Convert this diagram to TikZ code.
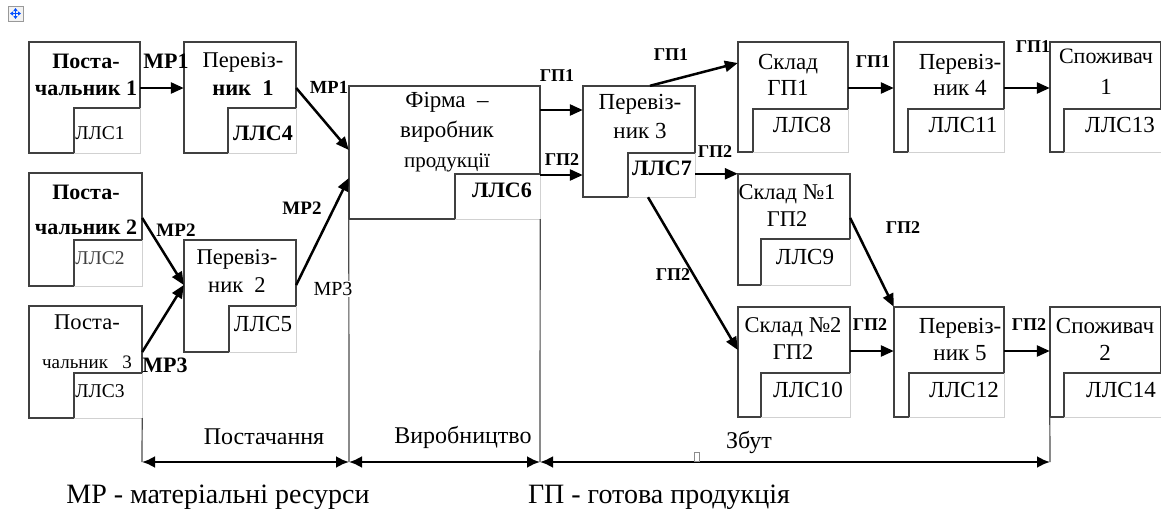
\documentclass[tikz,border=0pt]{standalone}
\usepackage{fontspec}
\setmainfont{Liberation Serif}
\usetikzlibrary{arrows.meta,calc,fit}
\newcommand\LLSbox[7]{% name, x1, y1, x2, y2, notch y, inner x
  \path (#2,#3) coordinate (#1-nw) (#4,#5) coordinate (#1-se);
  \node[inner sep=0pt, fit=(#1-nw)(#1-se)] (#1) {};
  \draw[dk] (#7,#5) -- (#2,#5) -- (#2,#3) -- (#4,#3) -- (#4,#6) -- (#7,#6) -- cycle;
  \draw[lt] (#7,#5) -- (#4,#5) -- (#4,#6);
}
\newcommand\fs[2]{\fontsize{#1}{#2}\selectfont}
\begin{document}
\begin{tikzpicture}[x=1pt,y=-1pt,
  dk/.style={draw=black!75, line width=1.5pt, line join=miter},
  lt/.style={draw=black!18, line width=1pt},
  vline/.style={draw=black!70, line width=1.2pt},
  arr/.style={line width=2.5pt, -{Triangle[length=13pt,width=11pt]}},
  span/.style={line width=2.4pt, {Latex[length=13pt,width=12pt]}-{Latex[length=13pt,width=12pt]}},
  txt/.style={font=\fs{22.5}{27}, align=center, inner sep=0pt},
  lls/.style={font=\fs{23}{24}, inner sep=0pt},
  llss/.style={font=\fs{19.5}{22}, inner sep=0pt},
  lab/.style={font=\bfseries\fs{18}{20}, inner sep=0pt},
  labn/.style={font=\fs{24}{26}, inner sep=0pt},
  leg/.style={font=\fs{28}{30}, inner sep=0pt}]
\useasboundingbox (0,0) rectangle (1161,522);
\fill[white] (0,0) rectangle (1161,522);

% move-handle icon
\draw[draw=black!40, fill=black!5, line width=0.8pt] (8,6) rectangle (23,21);
\draw[draw=blue!70!cyan, line width=1.3pt, {Triangle[length=3pt,width=4pt]}-{Triangle[length=3pt,width=4pt]}] (10,13.5) -- (21,13.5);
\draw[draw=blue!70!cyan, line width=1.3pt, {Triangle[length=3pt,width=4pt]}-{Triangle[length=3pt,width=4pt]}] (15.5,8) -- (15.5,19);

% ---- boxes ----
\LLSbox{p1}{29}{42}{140}{153}{108}{74}
\LLSbox{t1}{184}{42}{296}{153}{108}{228}
\LLSbox{p2}{29}{173}{142}{286}{240}{74}
\LLSbox{t2}{184}{240}{296}{352}{306}{229}
\LLSbox{p3}{29}{306}{142}{418}{373}{74}
\LLSbox{f}{349}{86}{540}{219}{174}{455}
\LLSbox{t3}{583}{86}{695}{197}{153}{628}
\LLSbox{s1}{738}{42}{848}{152}{109}{753}
\LLSbox{t4}{894}{42}{1004}{152}{109}{908}
\LLSbox{c1}{1050}{42}{1161}{152}{109}{1064}
\LLSbox{s2}{738}{174}{850}{285}{239}{761}
\LLSbox{s3}{738}{307}{850}{417}{373}{761}
\LLSbox{t5}{894}{307}{1004}{417}{373}{909}
\LLSbox{c2}{1050}{307}{1161}{417}{373}{1064}

% ---- box texts ----
\node[txt, font=\bfseries\fs{22}{27}] (p1t) at (86,75) {Поста-\\чальник 1};
\node[llss] (p1l) at (100,133) {ЛЛС1};
\node[txt, font=\fs{22.5}{28}] (t1t) at (243,74) {Перевіз-\\\textbf{ник\ \ 1}};
\node[lls, font=\bfseries\fs{22}{24}] (t1l) at (263,133) {ЛЛС4};
\node[txt, font=\bfseries\fs{22}{35}] (p2t) at (86,210) {Поста-\\чальник 2};
\node[llss, text=black!75] (p2l) at (100,258) {ЛЛС2};
\node[txt, font=\fs{22.5}{28}] (t2t) at (237,271) {Перевіз-\\ник\ \ 2};
\node[lls] (t2l) at (263,324) {ЛЛС5};
\node[txt, font=\fs{22.5}{39}] (p3t) at (87,342) {Поста-\\{\fs{19}{39}чальник\ \ \ 3}};
\node[llss] (p3l) at (100,391) {ЛЛС3};
\node[txt, font=\fs{23}{30}] (ft) at (447,132) {Фірма\ \ –\\виробник\\{\fs{21}{30}продукції}};
\node[lls, font=\bfseries\fs{22}{24}] (fl) at (502,190) {ЛЛС6};
\node[txt, font=\fs{23}{29}] (t3t) at (640,116) {Перевіз-\\ник 3};
\node[lls, font=\bfseries\fs{22}{24}] (t3l) at (662,168) {ЛЛС7};
\node[txt, font=\fs{23}{26}] (s1t) at (788,75) {Склад\\ГП1};
\node[lls] (s1l) at (802,125) {ЛЛС8};
\node[txt, font=\fs{23}{26}] (t4t) at (960,75) {Перевіз-\\ник 4};
\node[lls] (t4l) at (963,125) {ЛЛС11};
\node[txt, font=\fs{22}{31}] (c1t) at (1106,72) {Споживач\\{\fs{23}{31}1}};
\node[lls] (c1l) at (1120,125) {ЛЛС13};
\node[txt, font=\fs{22.5}{27}] (s2t) at (787,206) {Склад №1\\ГП2};
\node[lls] (s2l) at (805,257) {ЛЛС9};
\node[txt, font=\fs{22.5}{27}] (s3t) at (793,339) {Склад №2\\ГП2};
\node[lls] (s3l) at (808,390) {ЛЛС10};
\node[txt, font=\fs{23}{27}] (t5t) at (960,339) {Перевіз-\\ник 5};
\node[lls] (t5l) at (964,390) {ЛЛС12};
\node[txt, font=\fs{23}{27}] (c2t) at (1105,339) {Споживач\\2};
\node[lls] (c2l) at (1121,390) {ЛЛС14};

% ---- connectors ----
\draw[arr] (p1.east |- 0,88) -- (t1.west |- 0,88);
\node[inner sep=0pt, font=\bfseries\fs{22}{24}] (m1) at (166,61) {МР1};
\draw[arr] (t1.east |- 0,88) -- (f.west |- 0,150);
\node[lab, font=\bfseries\fs{18.5}{20}] (m1b) at (329,87) {МР1};
\draw[arr] (p2.east |- 0,218) -- (t2.west |- 0,285);
\node[lab, font=\bfseries\fs{19}{20}] (m2) at (176,230) {МР2};
\draw[arr] (p3.east |- 0,352) -- (t2.west |- 0,285);
\node[inner sep=0pt, font=\bfseries\fs{22}{24}] (m3) at (165,365) {МР3};
\draw[arr] (t2.east |- 0,285) -- (f.west |- 0,178);
\node[lab, font=\bfseries\fs{19}{20}] (m2b) at (302,208) {МР2};

\draw[arr] (f.east |- 0,110) -- (t3.west |- 0,110);
\node[lab] (g1) at (557,76) {ГП1};
\draw[arr] (f.east |- 0,175) -- (t3.west |- 0,175);
\node[lab] (g2) at (562,160) {ГП2};
\draw[arr] (650,0 |- t3.north) -- (s1.west |- 0,63);
\node[lab] (g3) at (671,55) {ГП1};
\draw[arr] (t3.east |- s2.north) -- (s2.north west);
\node[lab] (g4) at (715,152) {ГП2};
\draw[arr] (648,0 |- t3.south) -- (s3.west |- 0,350);
\node[lab] (g5) at (673,275) {ГП2};
\draw[arr] (s1.east |- 0,88) -- (t4.west |- 0,88);
\node[lab] (g6) at (873,62) {ГП1};
\draw[arr] (t4.east |- 0,88) -- (c1.west |- 0,88);
\node[lab] (g7) at (1033,47) {ГП1};
\draw[arr] (s2.east |- 0,218) -- (t5.north west);
\node[lab] (g8) at (903,228) {ГП2};
\draw[arr] (s3.east |- 0,351) -- (t5.west |- 0,351);
\node[lab] (g9) at (870,325) {ГП2};
\draw[arr] (t5.east |- 0,351) -- (c2.west |- 0,351);
\node[lab] (g10) at (1029,325) {ГП2};

% ---- stage brackets ----
\coordinate (b1) at (142,462);
\coordinate (b2) at (349,462);
\coordinate (b3) at (540,462);
\coordinate (b4) at (1050,462);
\draw[vline] (p3.south east) -- (b1);
\draw[vline] (f.south west) -- (b2);
\draw[vline] (f.south east) -- (b3);
\draw[vline] (c2.south west) -- (b4);
\node[inner sep=1pt, fill=white, font=\fs{20}{22}] (m3b) at (333,289) {МР3};
\draw[span] (b1) -- (b2);
\draw[span] (b2) -- (b3);
\draw[span] (b3) -- (b4);
\node[labn] (st1) at (264,437) {Постачання};
\node[labn] (st2) at (463,437) {Виробництво};
\node[labn] (st3) at (749,442) {Збут};
\draw[draw=black!45, line width=0.8pt] (694,452) rectangle (699,461);

% ---- legend ----
\node[leg] (lg1) at (218,497) {МР - матеріальні ресурси};
\node[leg] (lg2) at (659,497) {ГП - готова продукція};
\end{tikzpicture}
\end{document}
